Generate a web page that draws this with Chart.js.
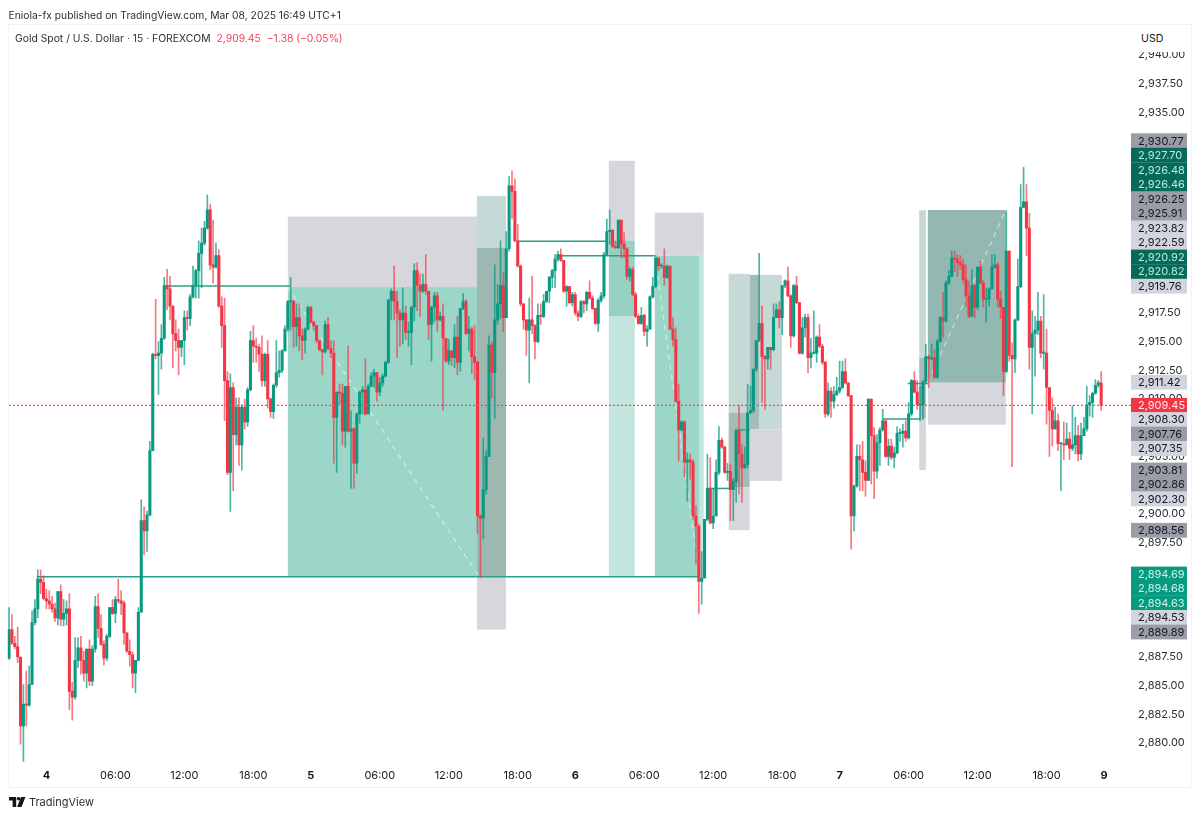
<!DOCTYPE html>
<html>
<head>
<meta charset="utf-8">
<title>Gold Spot / U.S. Dollar</title>
<script src="https://cdn.jsdelivr.net/npm/chart.js@4"></script>
<style>
html,body{margin:0;padding:0;background:#fff;overflow:hidden}
#wrap{position:relative;width:1200px;height:818px;font-family:Inter,"Liberation Sans",sans-serif;color:#131722}
canvas{position:absolute;left:0;top:0}
.t{position:absolute;white-space:nowrap;line-height:14px}
#pub{left:8.5px;top:8px;font-size:10.3px;color:#2a2e39}
#sym{left:15px;top:31px;font-size:10.35px;color:#2a2e39}
#sym span{color:#ef4458;margin-left:6px}
#usd{left:1132px;top:25px;width:54px;height:27px;line-height:27px;background:#fff;font-size:10.6px;padding-left:9px;box-sizing:border-box;border-radius:4px}
#tv{left:29px;top:795px;font-size:11px;color:#2a2e39}
#logo{position:absolute;left:9px;top:797px}
</style>
</head>
<body>
<div id="wrap">
<canvas id="c" width="1200" height="818"></canvas>
<div class="t" id="pub">Eniola-fx published on TradingView.com, Mar 08, 2025 16:49 UTC+1</div>
<div class="t" id="sym">Gold Spot / U.S. Dollar · 15 · FOREXCOM<span>2,909.45</span><span>−1.38 (−0.05%)</span></div>
<div class="t" id="usd">USD</div>
<svg id="logo" width="17" height="10" viewBox="0 0 17 10"><path fill="#131722" d="M0 0h7.2v10H3.6V3.4H0zM8.1 10 12 0h4.4l-3.9 10z"/><circle fill="#131722" cx="9.6" cy="1.8" r="1.8"/></svg>
<div class="t" id="tv">TradingView</div>
</div>
<script>
const firstOpen = 2887.4;
const closes = [
2889.9,2888.7,2888.4,2887.5,2881.5,2883.4,2883.3,2885.1,2890.5,2891.7,
2894.3,2894.0,2892.6,2892.4,2892.1,2891.7,2890.9,2893.2,2890.8,2891.3,
2891.7,2884.5,2884.0,2887.2,2888.3,2887.2,2886.1,2888.2,2885.4,2888.2,
2891.9,2890.0,2888.6,2887.4,2889.3,2891.8,2891.3,2892.5,2892.4,2892.2,
2889.6,2888.0,2887.7,2886.1,2887.2,2891.4,2899.4,2898.5,2899.9,2905.5,
2913.9,2913.8,2914.0,2915.3,2919.9,2919.6,2918.1,2915.7,2915.1,2914.5,
2915.1,2917.1,2917.0,2918.9,2919.9,2921.2,2922.7,2923.6,2924.9,2926.5,
2921.7,2921.5,2922.5,2918.1,2916.4,2911.6,2903.6,2911.0,2906.9,2909.3,
2906.0,2909.3,2908.0,2910.8,2915.1,2914.6,2914.5,2913.9,2911.6,2913.9,
2910.0,2908.9,2911.2,2912.3,2912.5,2914.2,2916.1,2918.5,2918.5,2916.3,
2917.1,2915.5,2915.1,2916.1,2918.0,2916.7,2916.4,2915.1,2914.3,2914.1,
2916.5,2914.4,2914.0,2908.4,2910.6,2910.5,2907.2,2911.1,2907.2,2907.4,
2904.4,2908.7,2910.6,2910.8,2908.7,2911.1,2912.0,2912.3,2910.6,2911.4,
2912.0,2913.2,2918.6,2919.4,2918.5,2917.5,2916.9,2917.5,2915.8,2915.8,
2918.0,2921.2,2919.9,2919.4,2920.0,2919.4,2916.5,2918.0,2919.0,2916.9,
2917.2,2915.3,2913.3,2914.2,2913.6,2915.4,2913.2,2917.9,2918.5,2915.7,
2916.1,2913.7,2913.2,2899.8,2899.6,2902.1,2905.0,2914.7,2912.3,2916.9,
2918.3,2919.9,2917.1,2923.1,2928.6,2928.1,2923.8,2921.6,2918.3,2916.9,
2916.0,2916.9,2916.4,2915.0,2917.3,2917.2,2918.5,2919.4,2920.6,2921.2,
2922.2,2922.6,2922.1,2919.4,2919.8,2918.4,2919.1,2917.5,2917.2,2918.5,
2918.3,2919.3,2918.8,2917.9,2916.6,2918.6,2919.0,2922.6,2924.6,2924.7,
2923.3,2923.2,2925.6,2923.5,2923.1,2920.7,2921.3,2919.1,2917.2,2916.6,
2917.3,2915.9,2916.1,2918.9,2919.8,2922.3,2921.6,2921.6,2920.6,2921.6,
2916.1,2915.2,2909.8,2907.3,2908.0,2904.5,2904.7,2904.5,2899.8,2898.9,
2894.1,2894.4,2899.5,2902.2,2899.2,2899.8,2903.6,2906.4,2905.8,2903.6,
2903.7,2902.1,2902.8,2907.2,2905.2,2904.0,2904.3,2908.8,2909.0,2912.6,
2915.1,2916.6,2913.7,2913.5,2914.5,2914.3,2917.1,2917.8,2917.1,2919.9,
2920.3,2919.0,2915.5,2919.9,2918.4,2914.0,2916.2,2917.1,2913.6,2914.0,
2914.0,2915.4,2914.6,2913.2,2908.7,2910.7,2909.8,2910.4,2910.7,2911.0,
2912.4,2911.4,2910.3,2899.8,2902.4,2905.0,2904.7,2903.6,2902.9,2910.0,
2906.8,2903.7,2906.2,2907.3,2908.1,2905.0,2905.9,2904.9,2905.3,2907.0,
2907.0,2907.2,2906.6,2908.7,2911.6,2910.6,2909.5,2909.5,2911.5,2913.7,
2913.5,2913.6,2911.9,2915.0,2917.1,2916.8,2920.1,2920.7,2922.3,2922.2,
2921.9,2921.7,2920.4,2919.0,2917.2,2919.9,2918.0,2921.5,2920.1,2918.7,
2918.7,2919.6,2921.5,2921.7,2918.7,2918.0,2912.4,2922.9,2913.8,2913.5,
2916.9,2919.8,2926.7,2927.2,2924.9,2914.5,2915.7,2916.0,2916.8,2914.0,
2914.0,2911.0,2909.0,2907.4,2908.1,2906.1,2906.1,2906.0,2906.5,2905.7,
2906.0,2906.8,2905.2,2906.8,2907.4,2909.5,2909.7,2910.5,2911.2,2911.4,2909.45];
const highs = [
2891.8,2891.2,2889.3,2890.1,2887.5,2885.1,2886.3,2886.7,2891.5,2892.5,
2895.1,2895.1,2894.6,2893.4,2893.3,2892.8,2892.2,2893.2,2893.8,2892.5,
2892.4,2893.0,2885.3,2889.2,2889.2,2889.3,2888.0,2888.2,2889.0,2888.5,
2892.8,2893.0,2891.2,2888.9,2889.5,2891.8,2892.5,2892.8,2894.3,2893.3,
2892.4,2889.6,2889.0,2887.9,2887.2,2891.8,2901.2,2900.6,2900.2,2906.3,
2914.0,2918.7,2915.0,2916.5,2920.6,2921.3,2920.7,2918.1,2916.9,2916.1,
2915.1,2917.7,2917.7,2919.1,2921.6,2921.3,2923.8,2924.9,2925.5,2927.8,
2927.0,2925.6,2923.6,2923.0,2918.9,2918.8,2912.4,2912.2,2911.4,2910.1,
2910.1,2909.5,2910.0,2911.0,2915.9,2916.4,2915.3,2914.8,2915.5,2914.0,
2915.1,2910.1,2911.3,2915.1,2914.2,2914.3,2916.4,2918.6,2920.6,2918.6,
2918.3,2918.3,2916.1,2916.2,2918.1,2918.1,2916.8,2916.4,2915.1,2914.3,
2916.8,2917.1,2915.1,2915.1,2910.6,2911.3,2911.3,2911.1,2914.6,2909.0,
2907.5,2908.8,2910.7,2911.1,2913.5,2911.3,2912.3,2912.6,2912.3,2911.9,
2912.2,2913.3,2918.7,2919.6,2921.6,2919.4,2917.8,2919.7,2918.1,2916.7,
2918.1,2921.8,2921.9,2920.9,2920.9,2922.6,2919.4,2918.1,2919.3,2919.3,
2917.6,2918.3,2915.3,2915.2,2914.2,2916.5,2917.2,2917.9,2919.2,2918.7,
2917.2,2916.3,2916.4,2913.3,2899.9,2906.6,2905.5,2915.5,2915.0,2921.7,
2920.0,2923.8,2921.0,2924.6,2929.4,2929.9,2929.2,2925.2,2921.7,2918.3,
2916.9,2918.8,2920.7,2916.5,2918.3,2918.3,2919.1,2919.4,2920.7,2921.3,
2922.6,2922.9,2923.1,2922.1,2919.9,2919.8,2919.3,2919.3,2917.7,2918.6,
2918.6,2919.4,2920.3,2919.0,2917.9,2918.8,2919.3,2922.8,2925.7,2926.5,
2924.8,2923.8,2925.6,2925.6,2924.5,2923.2,2921.5,2921.5,2919.3,2917.4,
2918.0,2917.4,2916.4,2919.0,2920.6,2922.5,2922.3,2921.8,2923.1,2921.7,
2921.6,2917.1,2916.2,2911.3,2908.1,2908.1,2905.3,2905.2,2904.7,2900.7,
2899.1,2896.7,2899.5,2905.2,2904.9,2902.2,2904.7,2907.6,2906.6,2905.9,
2904.4,2904.3,2903.1,2907.3,2909.4,2906.0,2905.8,2911.3,2911.1,2912.6,
2915.1,2922.7,2918.1,2913.8,2914.5,2914.5,2918.3,2918.3,2918.5,2919.9,
2920.4,2921.5,2919.1,2920.0,2920.7,2918.4,2917.1,2917.4,2917.4,2915.3,
2917.7,2915.5,2916.5,2914.8,2913.3,2911.4,2911.0,2911.1,2911.9,2913.3,
2913.3,2913.5,2911.4,2910.3,2902.5,2906.0,2906.0,2906.3,2904.6,2910.0,
2910.0,2907.5,2906.9,2907.5,2909.1,2908.1,2906.5,2906.5,2905.8,2907.6,
2907.4,2907.8,2908.1,2909.7,2911.7,2912.4,2911.6,2911.1,2911.6,2914.8,
2913.8,2914.8,2914.3,2915.2,2917.2,2919.3,2920.3,2921.2,2922.9,2922.9,
2922.6,2922.5,2922.2,2921.7,2920.3,2921.3,2920.0,2921.5,2922.0,2920.3,
2919.7,2919.7,2922.6,2922.6,2921.9,2919.4,2918.0,2926.4,2922.9,2914.9,
2917.0,2922.2,2928.7,2930.2,2928.7,2926.2,2917.7,2917.2,2919.3,2917.2,
2919.1,2916.1,2911.0,2910.1,2909.3,2908.7,2906.2,2908.0,2907.9,2907.1,
2909.4,2908.4,2907.7,2907.9,2908.4,2911.1,2910.3,2910.6,2911.7,2911.6,2912.4];
const lows = [
2887.3,2888.6,2888.2,2887.0,2879.9,2878.4,2881.5,2883.2,2885.1,2890.3,
2890.9,2893.0,2892.5,2891.7,2891.7,2891.4,2890.6,2890.3,2890.2,2890.2,
2890.3,2882.9,2882.0,2883.8,2886.6,2886.0,2885.4,2884.8,2885.0,2885.0,
2887.9,2889.2,2888.5,2886.8,2887.2,2889.2,2891.2,2890.5,2892.2,2891.2,
2888.6,2887.9,2886.7,2884.8,2884.4,2887.2,2891.4,2896.4,2896.7,2899.8,
2905.5,2913.5,2910.4,2912.6,2915.2,2917.8,2916.9,2912.7,2914.2,2912.1,
2913.7,2913.0,2916.0,2916.4,2918.8,2918.8,2918.8,2919.7,2923.4,2924.8,
2921.3,2920.1,2921.4,2918.0,2914.5,2908.1,2903.4,2900.2,2902.0,2906.0,
2904.2,2903.8,2907.4,2907.6,2910.7,2913.2,2913.2,2912.4,2911.1,2911.1,
2909.2,2908.4,2908.3,2911.0,2911.9,2912.3,2914.2,2915.9,2916.0,2914.5,
2914.6,2914.2,2913.4,2914.0,2916.0,2916.6,2916.0,2914.9,2914.2,2912.1,
2914.0,2914.3,2913.6,2904.4,2903.6,2909.5,2906.0,2905.8,2907.1,2902.2,
2902.2,2903.5,2907.9,2908.7,2908.6,2908.7,2911.1,2911.0,2909.8,2910.3,
2911.1,2911.9,2913.1,2916.9,2916.9,2913.6,2914.6,2914.8,2915.2,2914.6,
2913.0,2916.8,2917.7,2917.2,2919.3,2919.1,2915.2,2913.3,2916.7,2915.9,
2916.8,2909.0,2913.2,2913.0,2912.9,2912.7,2912.1,2912.4,2917.8,2915.6,
2914.2,2912.2,2911.7,2898.3,2894.4,2897.8,2901.7,2905.0,2910.1,2908.3,
2916.5,2917.0,2915.9,2917.1,2922.9,2925.7,2923.7,2921.5,2918.1,2916.1,
2913.8,2911.4,2915.7,2913.5,2914.9,2916.5,2917.1,2918.4,2918.4,2919.7,
2919.7,2922.0,2922.0,2919.3,2918.1,2918.3,2918.1,2917.3,2916.8,2917.1,
2917.5,2917.7,2918.7,2917.8,2916.5,2915.9,2918.4,2918.8,2922.5,2923.5,
2923.2,2923.1,2923.1,2922.3,2922.3,2920.4,2920.3,2919.0,2917.1,2916.5,
2916.5,2915.5,2914.6,2916.1,2918.8,2919.7,2921.2,2921.4,2919.9,2920.5,
2916.1,2914.6,2909.7,2904.6,2907.2,2903.2,2901.1,2903.0,2899.5,2895.6,
2891.3,2892.1,2894.4,2899.4,2899.1,2898.7,2899.8,2903.4,2905.7,2903.5,
2902.9,2899.4,2899.4,2901.0,2901.7,2901.0,2904.0,2904.0,2908.7,2908.8,
2912.4,2915.0,2909.7,2909.1,2912.6,2912.6,2914.2,2917.1,2916.2,2915.6,
2919.7,2918.9,2914.5,2915.4,2918.3,2913.9,2913.9,2915.4,2912.3,2912.7,
2913.9,2913.2,2914.5,2913.0,2908.4,2908.5,2908.4,2909.2,2910.3,2910.5,
2910.9,2911.3,2910.2,2896.9,2898.5,2902.3,2902.0,2902.0,2901.5,2902.9,
2902.6,2901.3,2903.1,2904.2,2907.2,2904.9,2904.2,2904.7,2904.0,2905.2,
2906.3,2905.8,2906.3,2906.5,2908.5,2910.5,2909.1,2908.1,2908.2,2911.4,
2911.0,2913.4,2911.8,2911.8,2915.0,2915.4,2916.7,2920.0,2920.7,2921.1,
2920.7,2921.3,2920.1,2918.1,2917.1,2917.8,2917.1,2917.8,2920.1,2918.0,
2916.7,2918.1,2919.6,2921.4,2918.0,2917.0,2910.3,2912.3,2913.3,2904.1,
2912.3,2916.8,2919.7,2926.7,2922.5,2912.6,2908.7,2912.0,2915.6,2913.6,
2912.6,2907.8,2905.0,2905.9,2907.4,2905.5,2902.0,2904.7,2906.0,2904.7,
2905.5,2905.2,2904.6,2904.7,2906.8,2907.2,2908.5,2908.4,2910.4,2911.0,2909.0];

const lastPrice = 2909.45;
const slotCount = 389;
const xTickIndex = [13,37,61,85,105,129,153,177,197,221,245,269,289,313,337,361,381];
const xTickLabels = ['4','06:00','12:00','18:00','5','06:00','12:00','18:00','6','06:00','12:00','18:00','7','06:00','12:00','18:00','9'];
const yTickValues = [2880,2882.5,2885,2887.5,2897.5,2900,2905,2910,2912.5,2915,2917.5,2935,2937.5,2940];

const palette = {
  gray:'#d6d7dc', teal:'#9bd6c9', pale:'#c2e6de', mid:'#97d1c4',
  haze:'#c5d9d6', slate:'#a4bbb7', deep:'#9db7b1', sage:'#92b8b1'
};
// candle-index span, price span, colour name
const zones = [
  [97,163.5,2925.91,2919.76,'gray'],[97,163.5,2919.76,2894.53,'teal'],
  [162.8,172.9,2927.70,2923.2,'haze'],[162.8,172.9,2923.2,2894.53,'deep'],[162.8,172.9,2894.53,2889.89,'gray'],
  [208.7,217.7,2930.77,2923.82,'gray'],[208.7,217.7,2923.82,2917.2,'mid'],[208.7,217.7,2917.2,2894.5,'pale'],
  [224.7,241.7,2926.25,2922.5,'gray'],[224.7,240.3,2922.5,2894.5,'teal'],[240.3,241.7,2922.5,2894.5,'pale'],
  [250.4,257.7,2920.92,2908.8,'haze'],[250.4,257.7,2908.8,2902.30,'slate'],[250.4,257.7,2902.30,2898.56,'gray'],
  [257.7,268.9,2920.82,2907.35,'haze'],[257.7,260.9,2920.82,2907.35,'slate'],[257.7,268.9,2907.35,2902.86,'gray'],
  [316.7,319,2926.46,2913.6,'haze'],[316.7,319,2913.6,2908.30,'slate'],[316.7,319,2908.30,2903.81,'gray'],
  [319.7,346.8,2926.48,2911.42,'sage'],[319.7,346.8,2911.42,2907.76,'gray']
];
// from index, to index, price
const levels = [
  [9.7,240.3,2894.5],[53.6,97.7,2919.85],[177,208,2923.75],[191.3,224.7,2922.5],
  [252.5,257.7,2907.3],[242.8,250.8,2902.2],[304,317,2908.25],[312.7,319.7,2911.35]
];
const diagonals = [
  [97,2919.76,163.5,2894.53],[319.7,2911.42,346.8,2926.48],[224.7,2922.5,240.3,2894.5]
];
const badgeLabels = ['2,930.77','2,927.70','2,926.48','2,926.46','2,926.25','2,925.91','2,923.82','2,922.59','2,920.92','2,920.82','2,919.76','2,911.42','2,909.45','2,908.30','2,907.76','2,907.35','2,903.81','2,902.86','2,902.30','2,898.56','2,894.69','2,894.68','2,894.63','2,894.53','2,889.89'];
const badgeKinds = ['g','d','d','d','g','g','p','p','d','d','p','p','r','p','g','p','g','g','p','g','t','t','t','p','g'];
const badgeRows = [140.7,155.2,169.8,184.3,198.9,213.4,228,242.5,257,271.6,286.2,382.3,405.3,419.5,434,448.6,470,484.4,499,530.3,574,588.4,603,617.4,632];
const badgeStyle = {
  g:['#9a9ca6','#131722'], d:['#076a59','#b6ecdf'], p:['#d3d5de','#131722'],
  r:['#f23645','#ffe9eb'], t:['#089981','#c9f5ea']
};

const green = '#089981', red = '#f23645';
const greenWick = 'rgba(8,153,129,.72)', redWick = 'rgba(242,54,69,.68)';
const categories = Array.from({length:slotCount},(_,i)=>i);
const opens = closes.map((c,i)=> i ? closes[i-1] : firstOpen);
const colours = closes.map((c,i)=> c >= opens[i] ? green : red);
const wickColours = closes.map((c,i)=> c >= opens[i] ? greenWick : redWick);

const overlay = {
  id:'overlay',
  beforeDraw(ch){
    const g = ch.ctx;
    g.save(); g.strokeStyle = '#f0f3fa'; g.lineWidth = 1;
    g.strokeRect(8.5,24.5,1183,763);
    g.restore();
  },
  beforeDatasetsDraw(ch){
    const g = ch.ctx, X = ch.scales.x, Y = ch.scales.y;
    g.save();
    for (const [a,b,t,u,c] of zones){
      const x0 = X.getPixelForValue(a), x1 = X.getPixelForValue(b);
      const y0 = Y.getPixelForValue(t), y1 = Y.getPixelForValue(u);
      g.fillStyle = palette[c];
      g.fillRect(x0,y0,x1-x0,y1-y0);
    }
    g.strokeStyle = 'rgba(255,255,255,.55)'; g.lineWidth = 1.2; g.setLineDash([5,5]);
    for (const [a,p,b,q] of diagonals){
      g.beginPath();
      g.moveTo(X.getPixelForValue(a),Y.getPixelForValue(p));
      g.lineTo(X.getPixelForValue(b),Y.getPixelForValue(q));
      g.stroke();
    }
    g.setLineDash([]);
    g.strokeStyle = '#2ba08c'; g.lineWidth = 1.5;
    for (const [a,b,p] of levels){
      const y = Y.getPixelForValue(p);
      g.beginPath();
      g.moveTo(X.getPixelForValue(a),y);
      g.lineTo(X.getPixelForValue(b),y);
      g.stroke();
    }
    g.restore();
  },
  afterDatasetsDraw(ch){
    const g = ch.ctx, Y = ch.scales.y;
    const y = Y.getPixelForValue(lastPrice);
    g.save();
    g.strokeStyle = '#f5475a'; g.lineWidth = 1.2; g.setLineDash([2,2]);
    g.beginPath(); g.moveTo(9,y); g.lineTo(1131,y); g.stroke();
    g.restore();
  },
  afterDraw(ch){
    const g = ch.ctx;
    g.save();
    g.font = '11px Inter'; g.textAlign = 'left'; g.textBaseline = 'middle';
    badgeLabels.forEach((t,i)=>{
      const [bg,fg] = badgeStyle[badgeKinds[i]], y = badgeRows[i];
      g.fillStyle = bg; g.fillRect(1131,y-7.4,56,14.8);
    });
    badgeLabels.forEach((t,i)=>{
      g.fillStyle = badgeStyle[badgeKinds[i]][1];
      g.fillText(t,1138,badgeRows[i]+.5);
    });
    g.restore();
  }
};

new Chart(document.getElementById('c'),{
  type:'bar',
  data:{labels:categories,datasets:[
    {label:'High-Low',data:highs.map((h,i)=>[lows[i],h]),backgroundColor:wickColours,barThickness:1,order:2,grouped:false},
    {label:'Open-Close',data:closes.map((c,i)=>[opens[i],c]),backgroundColor:colours,barThickness:2.4,minBarLength:1,order:1,grouped:false}
  ]},
  options:{
    responsive:false,animation:false,devicePixelRatio:1,
    layout:{padding:{left:7.6,right:0,top:24,bottom:0}},
    plugins:{legend:{display:false},tooltip:{enabled:false}},
    scales:{
      x:{
        offset:true,
        grid:{display:false,drawTicks:false},border:{display:false},
        afterBuildTicks(s){ s.ticks = xTickIndex.map(v=>({value:v})); },
        afterFit(s){ s.height = 54; },
        ticks:{
          autoSkip:false,maxRotation:0,minRotation:0,padding:5,color:'#131722',
          font:c=>({family:'Inter',size:11,weight:(c.tick&&String(c.tick.label).includes(':'))?'400':'700'}),
          callback:v=>xTickLabels[xTickIndex.indexOf(v)]
        }
      },
      y:{
        position:'right',min:2878.169,max:2942.703,
        grid:{display:false,drawTicks:false},border:{display:false},
        afterBuildTicks(s){ s.ticks = yTickValues.map(v=>({value:v})); },
        afterFit(s){ s.width = 74.4; },
        ticks:{
          padding:12.5,color:'#2a2e39',font:{family:'Inter',size:11},
          callback:v=>v.toLocaleString('en-US',{minimumFractionDigits:2,maximumFractionDigits:2})
        }
      }
    }
  },
  plugins:[overlay]
});
</script>
</body>
</html>
